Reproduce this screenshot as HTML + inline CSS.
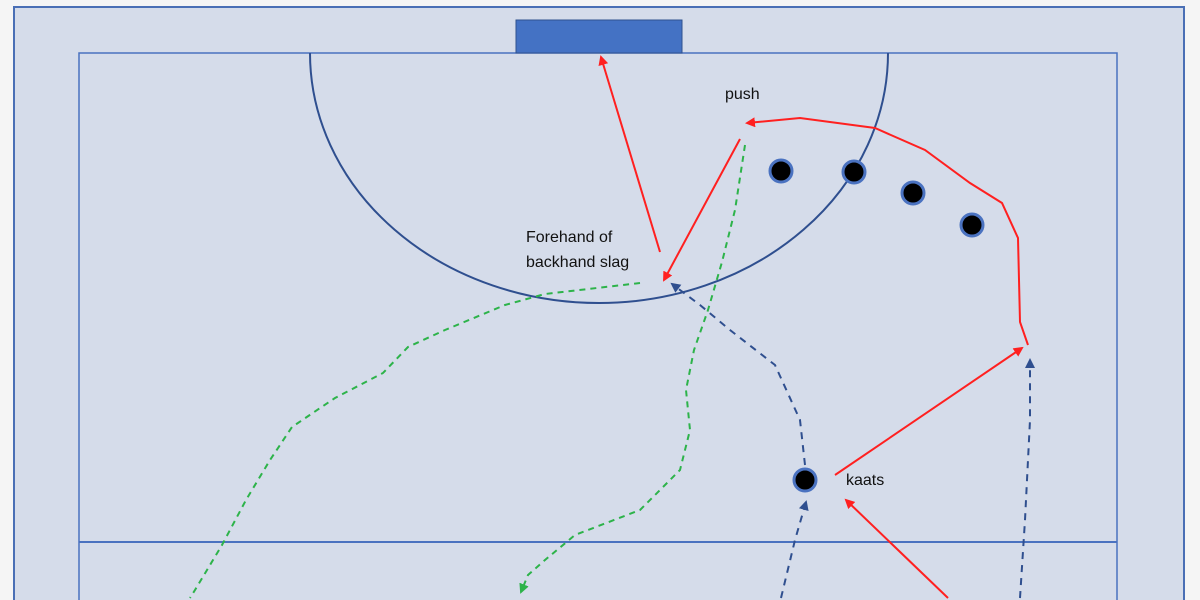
<!DOCTYPE html>
<html><head><style>
html,body{margin:0;padding:0;background:#f5f5f5;width:1200px;height:600px;overflow:hidden;}
svg{display:block;}
text{font-family:"Liberation Sans",sans-serif;font-size:16px;fill:#111;}
</style></head><body>
<svg width="1200" height="600" viewBox="0 0 1200 600">
<defs>
<marker id="r" markerWidth="10" markerHeight="10" refX="8" refY="5" orient="auto" markerUnits="userSpaceOnUse"><path d="M0,0 L10,5 L0,10 z" fill="#ff2020"/></marker>
<marker id="b" markerWidth="10" markerHeight="10" refX="8" refY="5" orient="auto" markerUnits="userSpaceOnUse"><path d="M0,0 L10,5 L0,10 z" fill="#2f4f8f"/></marker>
<marker id="g" markerWidth="10" markerHeight="10" refX="8" refY="5" orient="auto" markerUnits="userSpaceOnUse"><path d="M0,0 L10,5 L0,10 z" fill="#2db34a"/></marker>
</defs>
<rect x="14" y="7" width="1170" height="593" fill="#d5dcea"/>
<path d="M14,600 L14,7 L1184,7 L1184,600" fill="none" stroke="#4a6fb5" stroke-width="2"/>
<path d="M79,600 L79,53 L1117,53 L1117,600" fill="none" stroke="#4a72c0" stroke-width="1.5"/>
<line x1="79" y1="542" x2="1117" y2="542" stroke="#4a72c0" stroke-width="2"/>
<rect x="516" y="20" width="166" height="33" fill="#4472c4" stroke="#2f528f" stroke-width="1"/>
<path d="M310,53 A289,250 0 0 0 888,53" fill="none" stroke="#2f4f8f" stroke-width="2"/>
<g fill="none" stroke="#2db34a" stroke-width="2" stroke-dasharray="6,5">
<path d="M640,283 L545,294 L505,305 L445,330 L408,347 L383,373 L335,398 L292,427 L270,460 L246,500 L222,545 L195,590 L190,598"/>
<path d="M745,145 L735,210 L722,262 L708,310 L694,350 L686,390 L690,430 L680,470 L640,510 L575,535 L545,560 L528,575 L521,592" marker-end="url(#g)"/>
</g>
<g fill="none" stroke="#2f4f8f" stroke-width="2" stroke-dasharray="7,6">
<path d="M805,465 L800,420 L775,365 L730,330 L700,305 L672,284" marker-end="url(#b)"/>
<path d="M781,598 L795,540 L806,502" marker-end="url(#b)"/>
<path d="M1020,598 L1025,520 L1030,420 L1030,360" marker-end="url(#b)"/>
</g>
<g fill="none" stroke="#ff2020" stroke-width="2">
<line x1="660" y1="252" x2="601" y2="57" marker-end="url(#r)"/>
<line x1="740" y1="139" x2="664" y2="280" marker-end="url(#r)"/>
<line x1="948" y1="598" x2="846" y2="500" marker-end="url(#r)"/>
<line x1="835" y1="475" x2="1022" y2="348" marker-end="url(#r)"/>
<path d="M1028,345 L1020,322 L1018,238 L1002,203 L970,183 L925,150 L875,128 L800,118 L747,123" marker-end="url(#r)"/>
</g>
<g fill="#000" stroke="#4a72c0" stroke-width="3">
<circle cx="781" cy="171" r="11"/>
<circle cx="854" cy="172" r="11"/>
<circle cx="913" cy="193" r="11"/>
<circle cx="972" cy="225" r="11"/>
<circle cx="805" cy="480" r="11"/>
</g>
<text x="725" y="99">push</text>
<text x="526" y="242">Forehand of</text>
<text x="526" y="267">backhand slag</text>
<text x="846" y="485">kaats</text>
</svg>
</body></html>
